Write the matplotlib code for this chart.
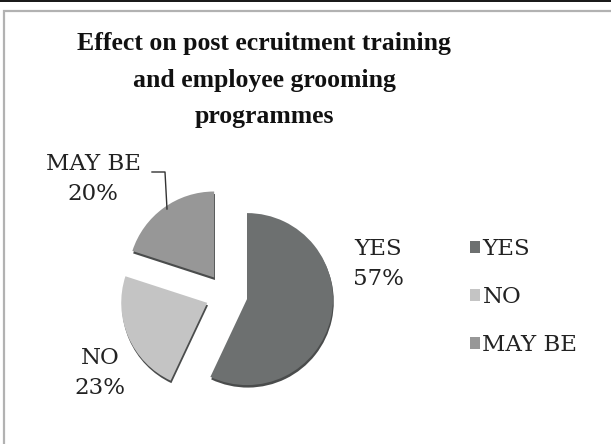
import matplotlib
matplotlib.use("Agg")
import matplotlib.pyplot as plt
import matplotlib.patches as mpatches

# survey answers
categories = ['YES', 'NO', 'MAY BE']
shares = [57, 23, 20]
colors = ['#6d7070', '#c4c4c4', '#979797']
title = 'Effect on post ecruitment training\nand employee grooming\nprogrammes'

W, H = 611, 444
fig = plt.figure(figsize=(W / 100, H / 100), dpi=100)
ax = fig.add_axes([0, 0, 1, 1])


def px(x, y):
    # pixel position measured from the top-left corner -> data coords
    return x, H - y


center = px(226.5, 294.5)
radius = 86
explode = [21, 21, 21]

# darker copy underneath gives the slices a bit of depth
ax.pie(shares, colors=['#4a4c4c'] * 3, explode=explode, radius=radius,
       center=(center[0] + 0.8, center[1] - 2.5), startangle=90,
       counterclock=False, frame=True, wedgeprops=dict(lw=0))
wedges, _ = ax.pie(shares, colors=colors, explode=explode, radius=radius,
                   center=center, startangle=90, counterclock=False,
                   frame=True, wedgeprops=dict(lw=0))
ax.set_xlim(0, W)
ax.set_ylim(0, H)
ax.set_aspect('auto')
ax.axis('off')

# outer frame and the dark strip on top
ax.add_patch(mpatches.Rectangle(px(4, 460), 700, 449, fill=False,
                                edgecolor='#b2b2b2', lw=1.6, zorder=0))
ax.add_patch(mpatches.Rectangle(px(0, 2.5), W, 3, color='#1a1a1a', lw=0, zorder=0))

ax.text(*px(264, 80), title, ha='center', va='center', multialignment='center',
        family='Liberation Serif', fontweight='bold', fontsize=18.5,
        linespacing=1.75, color='#111111')

lab_font = dict(family='DejaVu Serif', fontsize=16.5, color='#222222',
                ha='center', va='center', multialignment='center', linespacing=1.5)
label_pos = [(378, 264), (100, 373), (93, 179)]
for name, val, (lx, ly) in zip(categories, shares, label_pos):
    ax.text(*px(lx, ly), f'{name}\n{val}%', **lab_font)

# leader line for the MAY BE label
lx, ly = zip(*[px(152, 172), px(165, 172), px(167, 209)])
ax.plot(lx, ly, color='#333333', lw=1)

handles = [mpatches.Patch(facecolor=c, edgecolor='none') for c in colors]
leg = ax.legend(handles, categories, loc='upper left',
                bbox_to_anchor=(470 / W, 1 - 238 / H), frameon=False,
                prop=dict(family='DejaVu Serif', size=16.5),
                handlelength=0.42, handleheight=0.42, handletextpad=0.12,
                labelspacing=1.13, borderpad=0, borderaxespad=0)
for t in leg.get_texts():
    t.set_color('#222222')

fig.savefig('out.png', dpi=100, facecolor='white')
